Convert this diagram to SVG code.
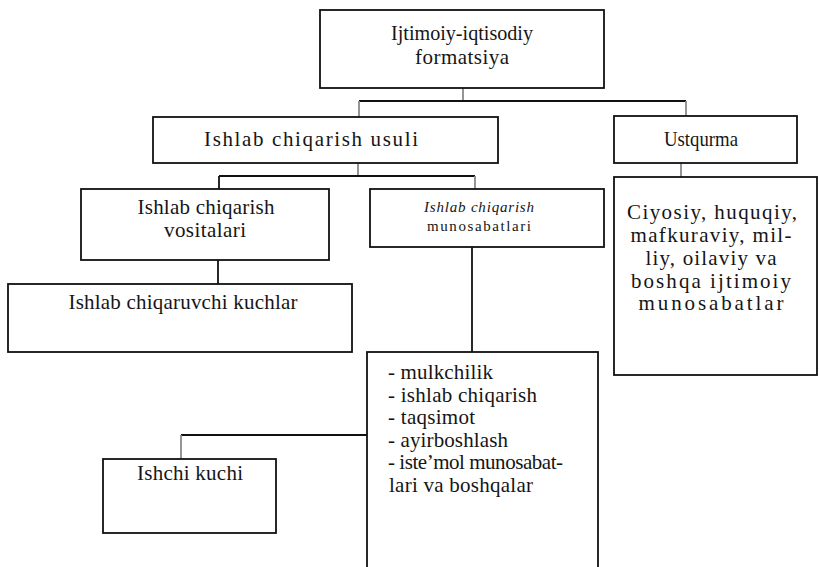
<svg xmlns="http://www.w3.org/2000/svg" width="819" height="567" viewBox="0 0 819 567">
<style>
.box{fill:#fff;stroke:#111;stroke-width:1.8}
.t{font-family:"Liberation Serif","Times New Roman",serif;font-size:21px;fill:#151515;text-anchor:middle}
.l{font-family:"Liberation Serif","Times New Roman",serif;font-size:21px;fill:#151515}
.s{font-family:"Liberation Serif","Times New Roman",serif;font-size:15px;fill:#151515;text-anchor:middle}
.c{stroke:#111;stroke-width:1.8;fill:none}
.g{stroke:#8a8a8a;stroke-width:1.8;fill:none}
</style>
<rect width="819" height="567" fill="#fff"/>
<g id="connectors">
<line class="g" x1="463" y1="88" x2="463" y2="101"/>
<line class="c" x1="359" y1="101" x2="686" y2="101"/>
<line class="g" x1="359" y1="101" x2="359" y2="117"/>
<line class="g" x1="686" y1="101" x2="686" y2="116"/>
<line class="g" x1="358" y1="163" x2="358" y2="176"/>
<line class="c" x1="219" y1="176" x2="475" y2="176"/>
<line class="c" x1="219" y1="176" x2="219" y2="189"/>
<line class="g" x1="475" y1="176" x2="475" y2="189"/>
<line class="g" x1="681" y1="163" x2="681" y2="177"/>
<line class="c" x1="218" y1="260" x2="218" y2="284"/>
<line class="c" x1="472" y1="247" x2="472" y2="352"/>
<line class="c" x1="181" y1="435" x2="367" y2="435"/>
<line class="g" x1="181" y1="435" x2="181" y2="459"/>
</g>
<g id="formatsiya">
<rect class="box" x="320" y="10" width="284" height="78"/>
<text class="t" x="462" y="39.5" textLength="142" lengthAdjust="spacingAndGlyphs">Ijtimoiy-iqtisodiy</text>
<text class="t" x="462" y="63.5" textLength="94" lengthAdjust="spacing">formatsiya</text>
</g>
<g id="ishlab-usuli">
<rect class="box" x="153" y="117" width="345" height="46"/>
<text class="t" x="311" y="146" textLength="214" lengthAdjust="spacing">Ishlab chiqarish usuli</text>
</g>
<g id="ustqurma">
<rect class="box" x="614" y="116" width="183" height="47"/>
<text class="t" x="701" y="146" textLength="74" lengthAdjust="spacingAndGlyphs">Ustqurma</text>
</g>
<g id="vositalari">
<rect class="box" x="81" y="189" width="248" height="71"/>
<text class="t" x="206" y="214" font-size="19" textLength="137" lengthAdjust="spacing">Ishlab chiqarish</text>
<text class="t" x="205" y="237" font-size="19" textLength="82" lengthAdjust="spacing">vositalari</text>
</g>
<g id="munosabatlari">
<rect class="box" x="370" y="189" width="234" height="58"/>
<text class="s" x="479" y="212" font-style="italic" font-size="16" textLength="110" lengthAdjust="spacing">Ishlab chiqarish</text>
<text class="s" x="479" y="231" textLength="104" lengthAdjust="spacing">munosabatlari</text>
</g>
<g id="ustqurma-tarkibi">
<rect class="box" x="614" y="177" width="203" height="198"/>
<text class="t" x="712" y="219" font-size="22" textLength="170" lengthAdjust="spacing">Ciyosiy, huquqiy,</text>
<text class="t" x="711" y="242" font-size="22" textLength="161" lengthAdjust="spacing">mafkuraviy, mil-</text>
<text class="t" x="711" y="265" font-size="22" textLength="131" lengthAdjust="spacing">liy, oilaviy va</text>
<text class="t" x="711" y="288" font-size="22" textLength="160" lengthAdjust="spacing">boshqa ijtimoiy</text>
<text class="t" x="711" y="310" font-size="22" textLength="145" lengthAdjust="spacing">munosabatlar</text>
</g>
<g id="kuchlar">
<rect class="box" x="8" y="284" width="344" height="68"/>
<text class="t" x="183" y="309" textLength="229" lengthAdjust="spacing">Ishlab chiqaruvchi kuchlar</text>
</g>
<g id="munosabatlar-royxati">
<rect class="box" x="367" y="352" width="231" height="230"/>
<text class="l" x="388" y="379" textLength="105" lengthAdjust="spacing">- mulkchilik</text>
<text class="l" x="388" y="401.5" textLength="149" lengthAdjust="spacing">- ishlab chiqarish</text>
<text class="l" x="388" y="424" textLength="87" lengthAdjust="spacing">- taqsimot</text>
<text class="l" x="388" y="446.5" textLength="120" lengthAdjust="spacing">- ayirboshlash</text>
<text class="l" x="388" y="469" textLength="175" lengthAdjust="spacing">- iste’mol munosabat-</text>
<text class="l" x="389" y="491.5" textLength="144" lengthAdjust="spacing">lari va boshqalar</text>
</g>
<g id="ishchi-kuchi">
<rect class="box" x="103" y="459" width="173" height="74"/>
<text class="t" x="190" y="480" textLength="106" lengthAdjust="spacing">Ishchi kuchi</text>
</g>
</svg>
